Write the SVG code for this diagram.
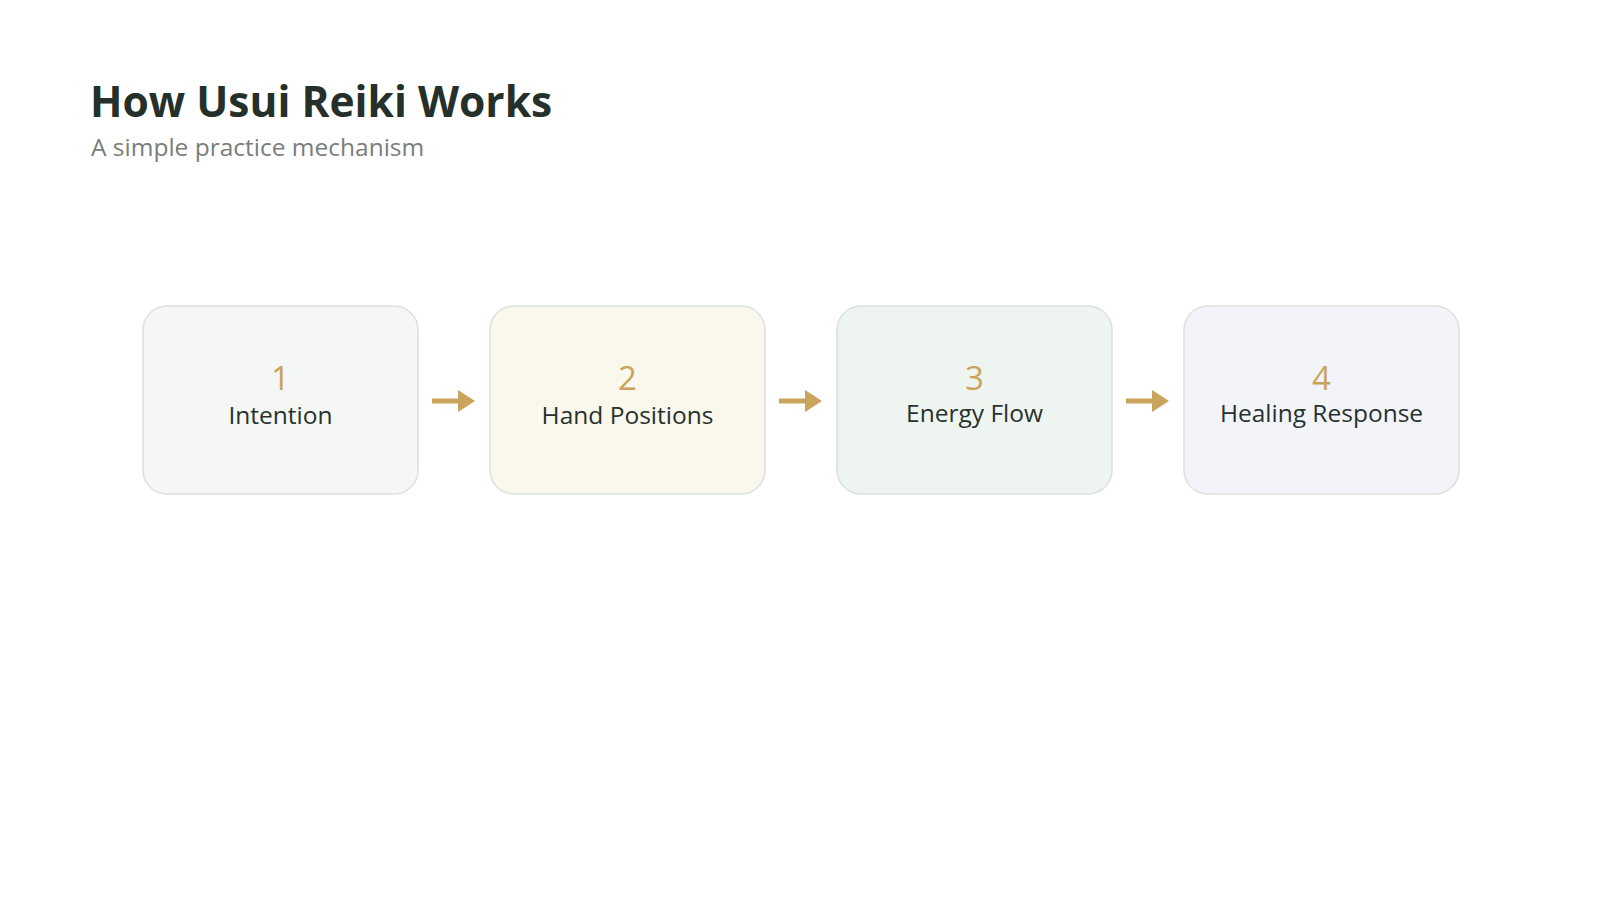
<svg xmlns="http://www.w3.org/2000/svg" width="1600" height="900" viewBox="0 0 1600 900">
  <style>
    .title { font-family: "Open Sans", "Noto Sans", "Liberation Sans", sans-serif; font-weight: 700; font-size: 42.5px; fill: #243029; }
    .subtitle { font-family: "Open Sans", "Noto Sans", "Liberation Sans", sans-serif; font-size: 24.5px; fill: #7a7d7b; }
    .box { stroke: #dce2de; stroke-width: 1.6; }
    .num { font-family: "Open Sans", "Noto Sans", "Liberation Sans", sans-serif; font-size: 33px; fill: #c9a45c; text-anchor: middle; }
    .label { font-family: "Open Sans", "Noto Sans", "Liberation Sans", sans-serif; font-size: 24.5px; fill: #27322e; text-anchor: middle; }
    .conn-line { stroke: #c9a45c; stroke-width: 5; fill: none; }
    .conn-head { fill: #c9a45c; }
  </style>
  <rect width="1600" height="900" fill="#ffffff"/>
  <g id="header">
    <text class="title" x="90" y="117">How Usui Reiki Works</text>
    <text class="subtitle" x="91" y="156">A simple practice mechanism</text>
  </g>
  <g id="node-1">
    <rect class="box" x="143" y="306" width="275" height="188" rx="24" fill="#f4f7f3"/>
    <text class="num" x="280.5" y="390">1</text>
    <text class="label" x="280.5" y="424">Intention</text>
  </g>
  <g id="node-2">
    <rect class="box" x="490" y="306" width="275" height="188" rx="24" fill="#faf7ec"/>
    <text class="num" x="627.5" y="390">2</text>
    <text class="label" x="627.5" y="424">Hand Positions</text>
  </g>
  <g id="node-3">
    <rect class="box" x="837" y="306" width="275" height="188" rx="24" fill="#eef5f0"/>
    <text class="num" x="974.5" y="390">3</text>
    <text class="label" x="974.5" y="421.5">Energy Flow</text>
  </g>
  <g id="node-4">
    <rect class="box" x="1184" y="306" width="275" height="188" rx="24" fill="#f2f4fa"/>
    <text class="num" x="1321.5" y="390">4</text>
    <text class="label" x="1321.5" y="421.5">Healing Response</text>
  </g>
  <g id="connectors">
    <line class="conn-line" x1="432" y1="401" x2="460" y2="401"/>
    <polygon class="conn-head" points="458,390 475,401 458,412"/>
    <line class="conn-line" x1="779" y1="401" x2="807" y2="401"/>
    <polygon class="conn-head" points="805,390 822,401 805,412"/>
    <line class="conn-line" x1="1126" y1="401" x2="1154" y2="401"/>
    <polygon class="conn-head" points="1152,390 1169,401 1152,412"/>
  </g>
</svg>
